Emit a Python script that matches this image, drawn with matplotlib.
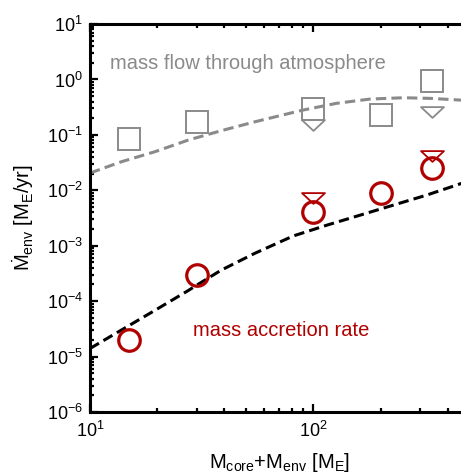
import numpy as np
import matplotlib
matplotlib.use("Agg")
import matplotlib.pyplot as plt
from matplotlib.path import Path
from matplotlib.ticker import LogLocator, NullFormatter

plt.rcParams["font.family"] = ["Liberation Sans", "DejaVu Sans"]
plt.rcParams["mathtext.fontset"] = "custom"
plt.rcParams["mathtext.rm"] = "Liberation Sans"
plt.rcParams["mathtext.it"] = "Liberation Sans:italic"
plt.rcParams["mathtext.bf"] = "Liberation Sans:bold"

# simulation points
mass_pts = [15, 30, 100, 200, 340]
flow_pts = [0.083, 0.17, 0.29, 0.23, 0.94]
accr_pts = [2.0e-5, 2.95e-4, 4.1e-3, 8.8e-3, 0.0255]

# upper limits (triangles)
lim_mass = [100, 340]
flow_lim = [0.15, 0.26]
accr_lim = [7.4e-3, 0.041]

# analytic curves
flow_curve_x = [10, 13.8, 19.5, 27.5, 38.7, 54.7, 69.5, 90.2, 127, 179.5, 253, 333, 454, 500]
flow_curve_y = [0.0205, 0.0327, 0.0496, 0.0805, 0.119, 0.172, 0.218, 0.281, 0.371, 0.443, 0.468, 0.456, 0.425, 0.41]

accr_curve_x = [10, 13.8, 19.5, 27.5, 31, 38.7, 54.7, 81.3, 115, 162, 228, 322, 424, 500]
accr_curve_y = [1.4e-5, 3.0e-5, 6.8e-5, 1.55e-4, 2.1e-4, 3.63e-4, 7.3e-4, 1.5e-3, 2.35e-3, 3.56e-3, 5.4e-3, 8.2e-3, 1.19e-2, 1.49e-2]

GRAY = "#8a8a8a"
RED = "#b00000"

tri = Path([(-1, 0.47), (1, 0.47), (0, -0.47), (-1, 0.47)],
           [Path.MOVETO, Path.LINETO, Path.LINETO, Path.CLOSEPOLY])

fig = plt.figure(figsize=(4.61, 4.75), dpi=100)
ax = fig.add_axes([0.1952, 0.1326, 0.823, 0.8168])

ax.plot(flow_curve_x, flow_curve_y, color=GRAY, lw=2.2, dashes=(3.4, 1.7), zorder=2)
ax.plot(accr_curve_x, accr_curve_y, color="black", lw=2.2, dashes=(3.4, 1.7), zorder=2)

ax.plot(mass_pts, flow_pts, ls="none", marker="s", ms=15.5, mfc="none",
        mec=GRAY, mew=1.4, zorder=3)
ax.plot(lim_mass, flow_lim, ls="none", marker=tri, ms=16.5, mfc="none",
        mec=GRAY, mew=1.3, zorder=3)
ax.plot(mass_pts, accr_pts, ls="none", marker="o", ms=15.5, mfc="none",
        mec=RED, mew=2.3, zorder=4)
ax.plot(lim_mass, accr_lim, ls="none", marker=tri, ms=16.5, mfc="none",
        mec=RED, mew=1.3, zorder=4)

ax.text(12.3, 1.98, "mass flow through atmosphere", color=GRAY,
        fontsize=14.5, ha="left", va="center")
ax.text(28.8, 2.9e-5, "mass accretion rate", color=RED,
        fontsize=14.5, ha="left", va="center")

ax.set_xscale("log")
ax.set_yscale("log")
ax.set_xlim(10, 500)
ax.set_ylim(1e-6, 10)

ax.yaxis.set_major_locator(LogLocator(base=10, numticks=20))
ax.yaxis.set_minor_locator(LogLocator(base=10, subs=np.arange(2, 10), numticks=20))
ax.yaxis.set_minor_formatter(NullFormatter())
ax.xaxis.set_minor_formatter(NullFormatter())

ax.tick_params(which="both", direction="in", top=True, right=False,
               labelsize=13, width=1.6)
ax.tick_params(which="major", length=6)
ax.tick_params(which="minor", length=2.8)
ax.tick_params(axis="x", which="major", pad=6.5)
ax.tick_params(axis="y", which="major", pad=5)
for s in ax.spines.values():
    s.set_linewidth(2.2)

ax.set_xlabel(r"M$_\mathrm{core}$+M$_\mathrm{env}$ [M$_\mathrm{E}$]",
              fontsize=14.5, labelpad=7)
ax.set_ylabel(r"$\dot{\mathrm{M}}_\mathrm{env}$ [M$_\mathrm{E}$/yr]",
              fontsize=14.5, labelpad=8)

fig.savefig("out.png", dpi=100)
